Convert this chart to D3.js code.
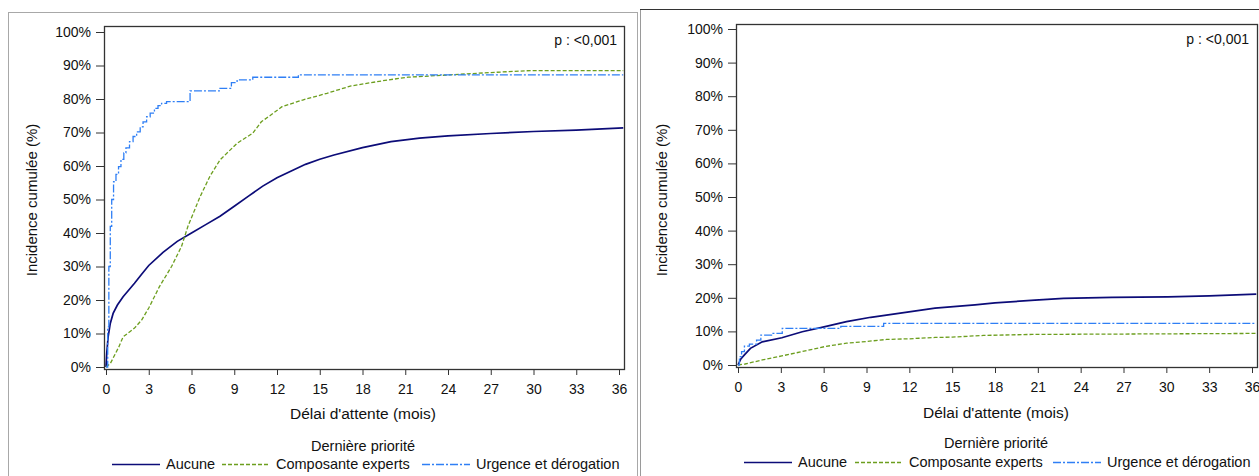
<!DOCTYPE html>
<html><head><meta charset="utf-8">
<script src="https://cdn.jsdelivr.net/npm/d3@7"></script>
<style>
html,body{margin:0;padding:0;background:#fff;}
svg{display:block;font-family:"Liberation Sans",Arial,sans-serif;}
</style></head>
<body>
<svg id="chart" width="1259" height="476"></svg>
<script>
// ---------- DATA ----------
const xTicks = [0,3,6,9,12,15,18,21,24,27,30,33,36];
const yTicks = [0,10,20,30,40,50,60,70,80,90,100];
const seriesNames = ["Aucune","Composante experts","Urgence et dérogation"];
const legendTitle = "Dernière priorité";
const xTitle = "Délai d'attente (mois)";
const yTitle = "Incidence cumulée (%)";
const pLabel = "p : <0,001";

// Left panel
const L_aucune_t = [0,0.05,0.15,0.3,0.5,0.8,1.2,1.6,2,2.5,3,4,5,6,7,8,9,10,11,12,13,14,15,16,18,20,22,24,27,30,33,36.3];
const L_aucune_v = [0,4,9,13,16,18.5,21,23,25,27.7,30.3,34.2,37.5,40,42.5,45,48,51,54,56.5,58.5,60.5,62,63.3,65.5,67.3,68.3,69,69.7,70.3,70.7,71.4];
const L_experts_t = [0,0.3,0.9,1.2,2,2.5,3,3.75,4.6,5.3,5.75,6.6,7.3,8,9.2,10.3,10.9,11.5,12.35,13.8,15.5,17.2,19.8,21.2,24.1,27,29.8,36.3];
const L_experts_v = [0,1,6,9,11.6,14,17.6,24,30,36,42,50.8,57,61.8,66.8,69.8,73.2,75,77.7,79.7,81.7,83.9,85.7,86.5,87.2,87.9,88.5,88.5];
const L_urgence_t = [0,0.12,0.2,0.3,0.4,0.53,0.7,0.88,1.05,1.25,1.4,1.65,1.9,2.15,2.4,2.6,2.85,3.1,3.4,3.65,3.9,4.25,5.9,8.0,8.8,9.2,10.3,13.5,36.3];
const L_urgence_v = [0,12,30,42,50,55.3,57.5,59.8,62,63.9,65.4,67.3,68.8,70.2,71.7,73.2,74.7,75.8,77.2,78,78.7,79.2,82.4,83.2,84.9,85.7,86.5,87.2,87.2];

// Right panel
const R_aucune_t = [0,0.2,0.45,0.87,1.7,3.07,4.5,6.1,7.6,9.3,12.1,13.8,16.6,18,20.8,22.8,26.2,30.1,33,36.3];
const R_aucune_v = [0,1.8,3,4.95,6.9,8.1,9.9,11.4,12.9,14.2,15.9,16.9,17.9,18.5,19.3,19.8,20.1,20.3,20.6,21.1];
const R_experts_t = [0,0.5,1.7,3.07,4.5,6.1,7.6,9,10.4,12,13.8,15,17.2,20.6,26.2,36.3];
const R_experts_v = [0,0.3,1.5,2.7,4,5.5,6.5,7,7.6,7.8,8.2,8.3,8.8,9.1,9.2,9.4];
const R_urgence_t = [0,0.1,0.25,0.45,0.8,1.3,1.6,2.35,3.1,7.2,10.2,36.3];
const R_urgence_v = [0,2.5,4,5.6,6.2,7.4,8.9,9.4,10.9,11.5,12.4,12.4];

// ---------- STYLE ----------
const colors = ["#0c0c78","#6c9e1e","#2f7ff5"];
const dashes = [null,"4,2","8,2,2,2"];
const widths = [1.7,1.3,1.3];
const steps = [false,false,true];

const svg = d3.select("#chart");
svg.append("rect").attr("width",1259).attr("height",476).attr("fill","#fff");

// panel borders
svg.append("rect").attr("x",8.5).attr("y",12.5).attr("width",629).attr("height",480)
  .attr("fill","none").attr("stroke","#a8a8a8");
svg.append("line").attr("x1",640.5).attr("x2",640.5).attr("y1",9).attr("y2",476).attr("stroke","#9a9a9a");
svg.append("line").attr("x1",640).attr("x2",1259).attr("y1",9.5).attr("y2",9.5).attr("stroke","#333");

function panel(cfg, data){
  const g = svg.append("g");
  const x = d3.scaleLinear().domain([0,36]).range([cfg.x0,cfg.x36]);
  const y = d3.scaleLinear().domain([0,100]).range([cfg.y0,cfg.y100]);
  const clipId = "clip"+cfg.id;
  g.append("clipPath").attr("id",clipId).append("rect")
    .attr("x",cfg.fl).attr("y",cfg.ft).attr("width",cfg.fr-cfg.fl+2).attr("height",cfg.fb-cfg.ft);

  const yAxis = d3.axisLeft(y).tickValues(yTicks).tickFormat(d=>d+"%").tickSize(8).tickPadding(5);
  const ya = g.append("g").attr("transform",`translate(${cfg.fl},0)`).call(yAxis);
  const xAxis = d3.axisBottom(x).tickValues(xTicks).tickSize(6).tickPadding(9);
  const xa = g.append("g").attr("transform",`translate(0,${cfg.fb})`).call(xAxis);
  [ya,xa].forEach(a=>{
    a.select(".domain").remove();
    a.selectAll(".tick line").attr("stroke","#333");
    a.selectAll(".tick text").attr("font-size",14).attr("fill","#111")
      .attr("font-family","Liberation Sans, Arial, sans-serif");
  });

  data.forEach((s,i)=>{
    const pts = s.t.map((t,j)=>[t,s.v[j]]);
    const line = d3.line().x(d=>x(d[0])).y(d=>y(d[1]))
      .curve(steps[i]?d3.curveStepAfter:d3.curveLinear);
    g.append("path").datum(pts).attr("d",line).attr("fill","none")
      .attr("stroke",colors[i]).attr("stroke-width",widths[i])
      .attr("stroke-dasharray",dashes[i]).attr("clip-path",`url(#${clipId})`);
  });

  g.append("rect").attr("x",cfg.fl+0.5).attr("y",cfg.ft+0.5)
    .attr("width",cfg.fr-cfg.fl).attr("height",cfg.fb-cfg.ft)
    .attr("fill","none").attr("stroke","#333").attr("stroke-width",1.3);

  g.append("text").attr("x",cfg.pX).attr("y",cfg.pY).attr("text-anchor","end")
    .attr("font-size",14).attr("fill","#111").text(pLabel);
  g.append("text").attr("x",cfg.xtX).attr("y",cfg.xtY).attr("text-anchor","middle")
    .attr("font-size",15.5).attr("fill","#111").text(xTitle);
  g.append("text").attr("transform",`translate(${cfg.ytX},${cfg.ytY}) rotate(-90)`)
    .attr("text-anchor","middle").attr("dy","0.35em")
    .attr("font-size",15).attr("fill","#111").text(yTitle);
  g.append("text").attr("x",cfg.xtX).attr("y",cfg.ltY).attr("text-anchor","middle")
    .attr("font-size",14.5).attr("fill","#111").text(legendTitle);
  seriesNames.forEach((n,i)=>{
    const lx = cfg.legX[i];
    g.append("line").attr("x1",lx).attr("x2",lx+48).attr("y1",cfg.legLineY).attr("y2",cfg.legLineY)
      .attr("stroke",colors[i]).attr("stroke-width",widths[i]).attr("stroke-dasharray",dashes[i]);
    g.append("text").attr("x",lx+54).attr("y",cfg.legY).attr("font-size",14.5).attr("fill","#111").text(n);
  });
}

panel({id:"L",x0:106,x36:619,y0:367,y100:32,fl:104,fr:624,ft:26,fb:369,
  pX:617,pY:45,xtX:363,xtY:419,ytX:32,ytY:200,ltY:451,legY:469,legLineY:464.5,
  legX:[112,222,422]},
  [{t:L_aucune_t,v:L_aucune_v},{t:L_experts_t,v:L_experts_v},{t:L_urgence_t,v:L_urgence_v}]);

panel({id:"R",x0:738,x36:1252,y0:365,y100:29,fl:736,fr:1257,ft:24,fb:367,
  pX:1249,pY:44,xtX:996,xtY:418,ytX:662,ytY:200,ltY:448,legY:467,legLineY:462.5,
  legX:[744,855,1053]},
  [{t:R_aucune_t,v:R_aucune_v},{t:R_experts_t,v:R_experts_v},{t:R_urgence_t,v:R_urgence_v}]);
</script>
</body></html>
